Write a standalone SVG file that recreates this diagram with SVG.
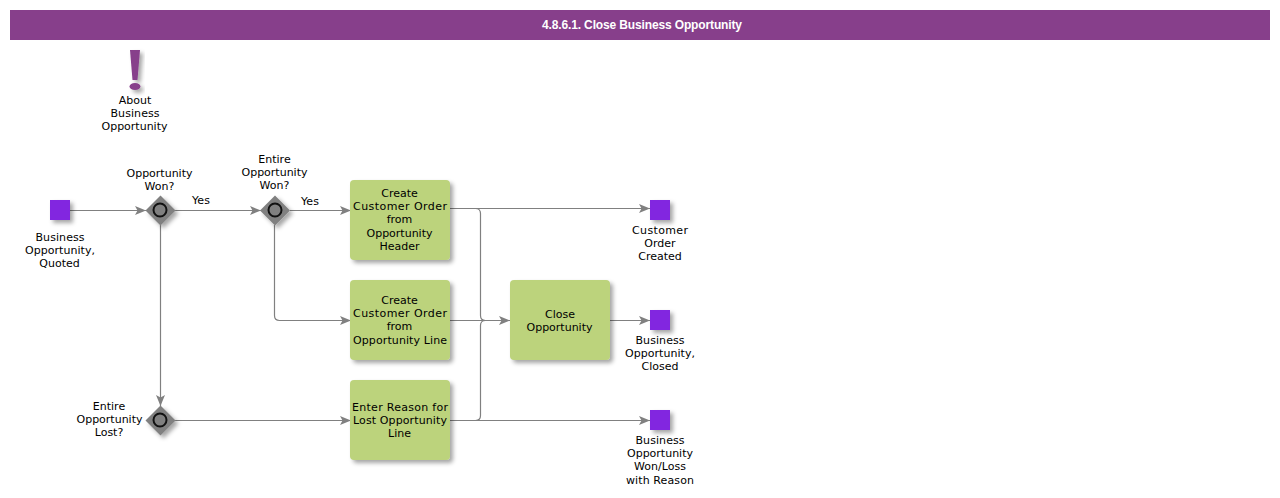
<svg xmlns="http://www.w3.org/2000/svg" width="1280" height="498" viewBox="0 0 1280 498">
  <style>
    text { font-family: "DejaVu Sans", Verdana, sans-serif; font-size: 11px; fill: #000; text-anchor: middle; }
    .title { font-family: "Liberation Sans", Arial, sans-serif; font-size: 12px; font-weight: bold; fill: #fff; }
    .task { fill: #bcd37c; filter: url(#shadow); }
    .event { fill: #8225e0; filter: url(#shadow); }
    .gate { fill: #808080; filter: url(#shadow); }
    .ring { fill: none; stroke: #111; stroke-width: 2; }
    .link { fill: none; stroke: #808080; stroke-width: 1.2; marker-end: url(#arrow); }
    .plain { fill: none; stroke: #808080; stroke-width: 1.2; }
  </style>
  <defs>
    <filter id="shadow" x="-30%" y="-30%" width="170%" height="170%">
      <feDropShadow dx="3" dy="3" stdDeviation="2" flood-color="#000" flood-opacity="0.35"/>
    </filter>
    <marker id="arrow" viewBox="0 0 11 9" refX="11" refY="4.500" markerWidth="11" markerHeight="9" markerUnits="userSpaceOnUse" orient="auto">
      <path d="M0 0 L11 4.500 L0 9 L2.500 4.500 Z" fill="#808080"/>
    </marker>
    <path id="diamond" d="M0 -15 L15 0 L0 15 L-15 0 Z"/>
  </defs>

  <g id="header">
    <rect x="10" y="10" width="1260" height="30" fill="#873f8b"/>
    <text class="title" x="642" y="29" textLength="200">4.8.6.1. Close Business Opportunity</text>
  </g>

  <g id="connectors">
    <path class="link" d="M70 210.500H146"/>
    <path class="link" d="M175 210.500H261"/>
    <path class="link" d="M290 210.500H351"/>
    <path class="link" d="M160.500 225V406"/>
    <path class="link" d="M274.500 225V315.500Q274.500 320.500 279.500 320.500H351"/>
    <path class="link" d="M175 420.500H351"/>
    <path class="link" d="M450 208.500H650"/>
    <path class="link" d="M450 320.500H510"/>
    <path class="link" d="M610 320.500H650"/>
    <path class="link" d="M450 420.500H650"/>
    <path class="plain" d="M475.500 208.500Q480.500 208.500 480.500 213.500V315.500Q480.500 320.500 485.500 320.500"/>
    <path class="plain" d="M475.500 420.500Q480.500 420.500 480.500 415.500V325.500Q480.500 320.500 485.500 320.500"/>
  </g>

  <g id="about-business-opportunity">
    <g filter="url(#shadow)">
      <path d="M130 50H140L137.500 80H132.500Z" fill="#873f8b"/>
      <ellipse cx="135" cy="86.500" rx="5.500" ry="3.500" fill="#873f8b"/>
    </g>
    <text x="135" y="104">About</text>
    <text x="135" y="117" textLength="49">Business</text>
    <text x="134.500" y="130" textLength="66">Opportunity</text>
  </g>

  <g id="start-quoted">
    <rect class="event" x="50" y="200" width="20" height="20"/>
    <text x="60" y="241" textLength="49">Business</text>
    <text x="60" y="254" textLength="70">Opportunity,</text>
    <text x="59.500" y="267">Quoted</text>
  </g>

  <g id="gate-opportunity-won">
    <use href="#diamond" x="160.500" y="210.500" class="gate"/>
    <circle class="ring" cx="160" cy="210" r="6.500"/>
    <text x="159.500" y="177" textLength="66">Opportunity</text>
    <text x="159.500" y="190">Won?</text>
  </g>

  <g id="gate-entire-won">
    <use href="#diamond" x="275" y="210.500" class="gate"/>
    <circle class="ring" cx="275" cy="210" r="6.500"/>
    <text x="274.500" y="163">Entire</text>
    <text x="274.500" y="176" textLength="66">Opportunity</text>
    <text x="274.500" y="189">Won?</text>
  </g>

  <g id="gate-entire-lost">
    <use href="#diamond" x="160.500" y="420.500" class="gate"/>
    <circle class="ring" cx="160" cy="420" r="6.500"/>
    <text x="109" y="410">Entire</text>
    <text x="109.500" y="423" textLength="66">Opportunity</text>
    <text x="109" y="436">Lost?</text>
  </g>

  <g id="flow-labels">
    <text x="201" y="204">Yes</text>
    <text x="310" y="205">Yes</text>
  </g>

  <g id="task-order-header">
    <rect class="task" x="350" y="180" width="100" height="80" rx="4"/>
    <text x="399.500" y="197">Create</text>
    <text x="400" y="210" textLength="94">Customer Order</text>
    <text x="399.500" y="223">from</text>
    <text x="399.500" y="237" textLength="66">Opportunity</text>
    <text x="399.500" y="250">Header</text>
  </g>

  <g id="task-order-line">
    <rect class="task" x="350" y="280" width="100" height="80" rx="4"/>
    <text x="399.500" y="304">Create</text>
    <text x="400" y="317" textLength="94">Customer Order</text>
    <text x="399.500" y="330">from</text>
    <text x="400" y="344" textLength="94">Opportunity Line</text>
  </g>

  <g id="task-lost-reason">
    <rect class="task" x="350" y="380" width="100" height="80" rx="4"/>
    <text x="400" y="411" textLength="96">Enter Reason for</text>
    <text x="400" y="424" textLength="94">Lost Opportunity</text>
    <text x="399.500" y="437">Line</text>
  </g>

  <g id="task-close">
    <rect class="task" x="510" y="280" width="100" height="80" rx="4"/>
    <text x="560" y="318">Close</text>
    <text x="559.500" y="331" textLength="66">Opportunity</text>
  </g>

  <g id="end-order-created">
    <rect class="event" x="650" y="200" width="20" height="20"/>
    <text x="660" y="234" textLength="56">Customer</text>
    <text x="660" y="247">Order</text>
    <text x="660" y="260">Created</text>
  </g>

  <g id="end-closed">
    <rect class="event" x="650" y="310" width="20" height="20"/>
    <text x="660" y="344" textLength="49">Business</text>
    <text x="660" y="357" textLength="70">Opportunity,</text>
    <text x="660" y="370">Closed</text>
  </g>

  <g id="end-won-loss">
    <rect class="event" x="650" y="410" width="20" height="20"/>
    <text x="660" y="444" textLength="49">Business</text>
    <text x="660" y="457" textLength="66">Opportunity</text>
    <text x="660" y="470">Won/Loss</text>
    <text x="660" y="484" textLength="68">with Reason</text>
  </g>
</svg>
